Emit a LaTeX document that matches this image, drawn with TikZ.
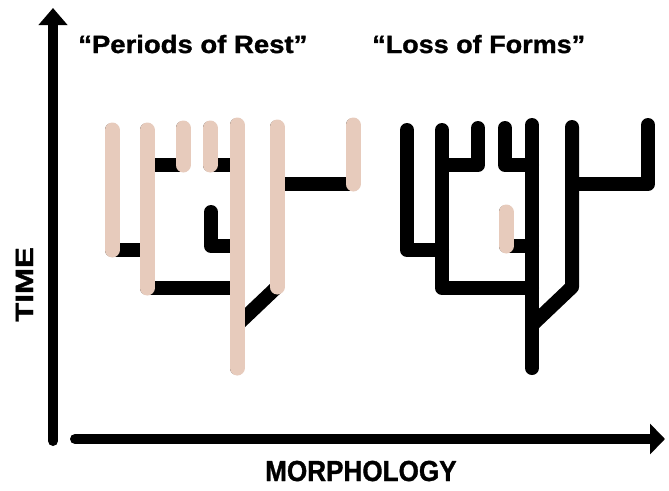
\documentclass[tikz,border=0pt]{standalone}
\usepackage{fontspec}
\setmainfont{Liberation Sans}
\newfontfamily\heavyfont{Liberation Sans Bold}[FakeBold=1.2]
\usepackage{tikz}
\usetikzlibrary{arrows.meta}
\definecolor{restpink}{RGB}{231,203,188}
\tikzset{
  axis/.style={line width=10pt, line cap=round},
  branch/.style={line width=14pt, line cap=round, line join=round},
  rested/.style={branch, line width=15pt, draw=restpink},
  heading/.style={anchor=base west, inner sep=0pt, font=\heavyfont\fontsize{25}{30}\selectfont},
}

\begin{document}
\begin{tikzpicture}[x=1pt,y=-1pt]
    \useasboundingbox (0,0) rectangle (669,490);

    % axes
    \coordinate (t0) at (53,441);
    \coordinate (t1) at (53,8);
    \coordinate (m0) at (75,439);
    \coordinate (m1) at (665,439);
    \draw[axis,-{Triangle[length=17pt,width=28pt]}] (t0) -- (t1);
    \draw[axis,-{Triangle[length=15pt,width=30pt]}] (m0) -- (m1);

    \node[heading,rotate=90] (time) at (33,322) {\scalebox{1.25}[1]{TIME}};
    \node[heading,font=\heavyfont\fontsize{29}{34}\selectfont] (morph) at (265,481) {\scalebox{0.9}[1]{MORPHOLOGY}};
    \node[heading] (rest) at (78,53) {\scalebox{1.1}[1]{“Periods of Rest”}};
    \node[heading] (loss) at (372,53) {\scalebox{1.08}[1]{“Loss of Forms”}};

    % the two trees
    \foreach \dx/\tr in {0/l,295/r}{
      \begin{scope}[xshift=\dx pt]
        \coordinate (\tr a1) at (112,130); \coordinate (\tr a2) at (112,250);
        \coordinate (\tr b1) at (147,130); \coordinate (\tr b2) at (147,288);
        \coordinate (\tr c1) at (183,128); \coordinate (\tr c2) at (183,165);
        \coordinate (\tr d1) at (237,125); \coordinate (\tr d2) at (237,368);
        \coordinate (\tr e1) at (210,128); \coordinate (\tr e2) at (210,165);
        \coordinate (\tr f1) at (277,127); \coordinate (\tr f2) at (277,287);
        \coordinate (\tr g1) at (353,125); \coordinate (\tr g2) at (353,184);
        \coordinate (\tr h1) at (211,212); \coordinate (\tr h2) at (211,246);
        \coordinate (\tr fd) at (237,325);
      \end{scope}
      \draw[branch] (\tr a1) -- (\tr a2) -- (\tr a2 -| \tr b1);
      \draw[branch] (\tr b1) -- (\tr b2) -- (\tr b2 -| \tr d1);
      \draw[branch] (\tr c1) -- (\tr c2) -- (\tr c2 -| \tr b1);
      \draw[branch] (\tr e1) -- (\tr e2) -- (\tr e2 -| \tr d1);
      \draw[branch] (\tr d1) -- (\tr d2);
      \draw[branch] (\tr h1) -- (\tr h2) -- (\tr h2 -| \tr d1);
      \draw[branch] (\tr f1) -- (\tr f2) -- (\tr fd);
      \draw[branch] (\tr g1) -- (\tr g2) -- (\tr g2 -| \tr f1);
    }

    % lineages that rest
    \foreach \v in {a,b,c,d,e,f,g}
      \draw[rested] (l\v1) -- (l\v2);
    \draw[rested] (rh1) -- (rh2);
\end{tikzpicture}
\end{document}
